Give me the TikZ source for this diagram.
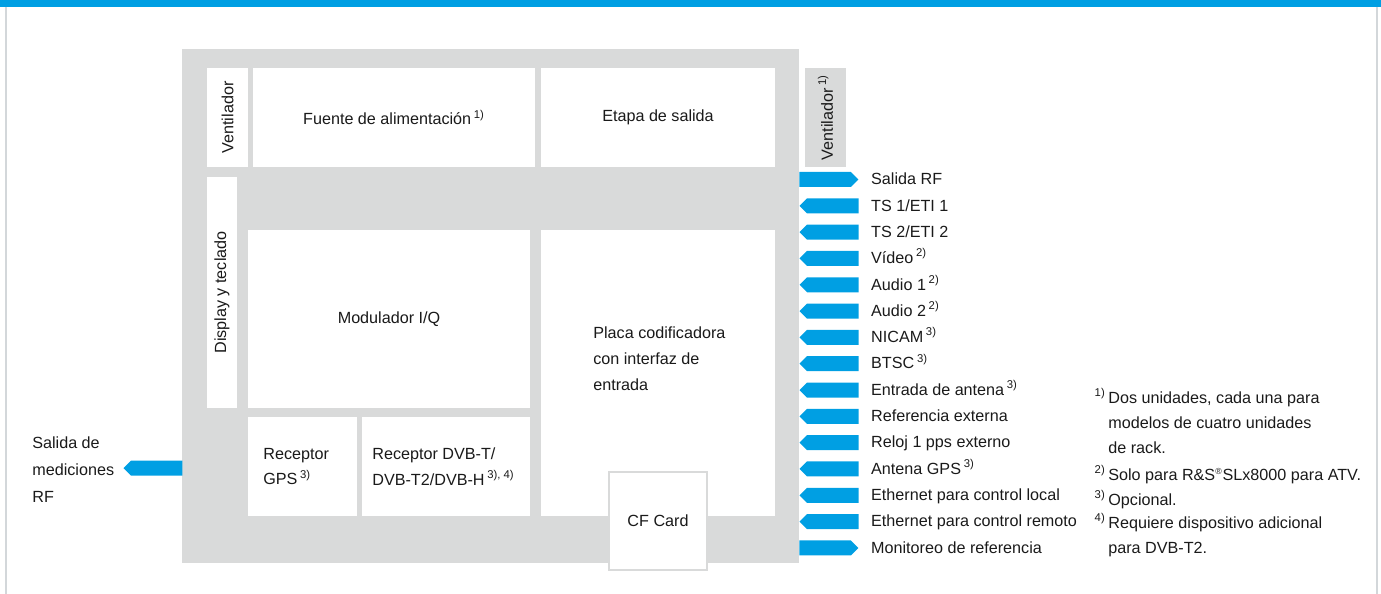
\documentclass[tikz,border=0pt]{standalone}
\usepackage{fontspec}
\setmainfont{Liberation Sans}
\usepackage{xcolor}
\usetikzlibrary{shapes.symbols,positioning}

\definecolor{rsblue}{HTML}{009FE3}
\definecolor{rsgray}{HTML}{D9DADA}
\definecolor{framegray}{HTML}{D3D7DA}
\definecolor{inkgray}{HTML}{1A1A1A}
\newcommand{\fnote}[1]{\,\textsuperscript{#1}}

\begin{document}
\begin{tikzpicture}[
    x=0.02cm, y=-0.02cm,
    font=\fontsize{9.2}{14.7}\selectfont, text=inkgray,
    node distance=0.2264cm and 0.24cm,
    % Unit styles
    chassis/.style={rectangle, fill=rsgray, inner sep=0pt,
        minimum width=12.34cm, minimum height=10.28cm},
    unit/.style={rectangle, fill=white, inner sep=0pt, text centered},
    fan/.style={unit, rotate=90, minimum width=1.98cm, minimum height=0.82cm},
    card/.style={rectangle, draw=rsgray, line width=1.1pt, fill=white,
        inner sep=0pt, minimum size=1.96cm},
    blocktext/.style={inner sep=0pt, align=left, anchor=west},
    % Port styles
    outport/.style={signal, signal to=east, signal pointer angle=90, fill=rsblue,
        inner sep=0pt, minimum width=1.18cm, minimum height=0.3cm, anchor=west},
    inport/.style={outport, signal to=west},
    portlabel/.style={inner sep=0pt, text height=7.5pt, text depth=1.5pt},
    note/.style={inner sep=0pt, align=left, anchor=base west,
        font=\fontsize{9.2}{14.2}\selectfont}
]
    \useasboundingbox (0,0) rectangle (1381,594);

    % Page frame
    \fill[rsblue] (0,0) rectangle (1381,7);
    \draw[framegray, line width=0.7pt] (6,7) -- (6,594);
    \draw[framegray, line width=0.7pt] (1377,7) -- (1377,594);

    % Chassis and units
    \node[chassis] (rack) at (490.5,306) {};
    \node[fan] (fanleft) at (227.5,117.5) {Ventilador};
    \node[unit, minimum width=5.64cm, minimum height=1.98cm] (psu) at (394,117.5)
        {Fuente de alimentación\fnote{1)}};
    \node[unit, minimum width=4.68cm, minimum height=1.98cm] (output) at (658,117.5)
        {Etapa de salida};
    \node[unit, rotate=90, minimum width=4.62cm, minimum height=0.6cm] (display) at (222,292.5)
        {Display y teclado};
    \node[unit, minimum width=5.64cm, minimum height=3.56cm] (modulator) at (389,319)
        {Modulador I/Q};
    \node[unit, minimum width=4.68cm, minimum height=5.72cm] (coder) at (658,373) {};
    \node[blocktext] (codertext) at (593,359)
        {Placa codificadora\\con interfaz de\\entrada};
    \node[unit, minimum width=2.18cm, minimum height=1.98cm] (gps) at (302.5,466.5) {};
    \node[blocktext] (gpstext) at (263,466.5) {Receptor\\GPS\fnote{3)}};
    \node[unit, minimum width=3.36cm, minimum height=1.98cm] (dvb) at (446,466.5) {};
    \node[blocktext] (dvbtext) at (372,466.5)
        {Receptor DVB-T/\\DVB-T2/DVB-H\fnote{3), 4)}};
    \node[card] (cfcard) at (658,521) {CF Card};
    \node[fan, fill=rsgray] (fanright) at (825.5,117.5) {Ventilador\fnote{1)}};

    % Measurement output (left)
    \node[inport] (measout) at (123,468) {};
    \node[blocktext, font=\fontsize{9.2}{15.3}\selectfont] (measlabel) at (32,470)
        {Salida de\\mediciones\\RF};

    % Ports (right), one row every 0.5264cm
    \node[outport] (rfout) at (799,179.5) {};
    \node[inport] (ts1) at ([yshift=-0.5264cm]rfout.west) {};
    \node[inport] (ts2) at ([yshift=-0.5264cm]ts1.west) {};
    \node[inport] (video) at ([yshift=-0.5264cm]ts2.west) {};
    \node[inport] (audio1) at ([yshift=-0.5264cm]video.west) {};
    \node[inport] (audio2) at ([yshift=-0.5264cm]audio1.west) {};
    \node[inport] (nicam) at ([yshift=-0.5264cm]audio2.west) {};
    \node[inport] (btsc) at ([yshift=-0.5264cm]nicam.west) {};
    \node[inport] (antin) at ([yshift=-0.5264cm]btsc.west) {};
    \node[inport] (extref) at ([yshift=-0.5264cm]antin.west) {};
    \node[inport] (pps) at ([yshift=-0.5264cm]extref.west) {};
    \node[inport] (gpsant) at ([yshift=-0.5264cm]pps.west) {};
    \node[inport] (ethlocal) at ([yshift=-0.5264cm]gpsant.west) {};
    \node[inport] (ethremote) at ([yshift=-0.5264cm]ethlocal.west) {};
    \node[outport] (refmon) at ([yshift=-0.5264cm]ethremote.west) {};

    \node[portlabel, right=of rfout.east] (rfoutlabel) {Salida RF};
    \node[portlabel, right=of ts1.east] (ts1label) {TS 1/ETI 1};
    \node[portlabel, right=of ts2.east] (ts2label) {TS 2/ETI 2};
    \node[portlabel, right=of video.east] (videolabel) {Vídeo\fnote{2)}};
    \node[portlabel, right=of audio1.east] (audio1label) {Audio 1\fnote{2)}};
    \node[portlabel, right=of audio2.east] (audio2label) {Audio 2\fnote{2)}};
    \node[portlabel, right=of nicam.east] (nicamlabel) {NICAM\fnote{3)}};
    \node[portlabel, right=of btsc.east] (btsclabel) {BTSC\fnote{3)}};
    \node[portlabel, right=of antin.east] (antinlabel) {Entrada de antena\fnote{3)}};
    \node[portlabel, right=of extref.east] (extreflabel) {Referencia externa};
    \node[portlabel, right=of pps.east] (ppslabel) {Reloj 1 pps externo};
    \node[portlabel, right=of gpsant.east] (gpsantlabel) {Antena GPS\fnote{3)}};
    \node[portlabel, right=of ethlocal.east] (ethlocallabel) {Ethernet para control local};
    \node[portlabel, right=of ethremote.east] (ethremotelabel) {Ethernet para control remoto};
    \node[portlabel, right=of refmon.east] (refmonlabel) {Monitoreo de referencia};

    % Footnotes (anchored at the baseline of their last line)
    \node[note] (note1) at (1108,453)
        {\llap{\textsuperscript{1)}\,}Dos unidades, cada una para\\modelos de cuatro unidades\\de rack.};
    \node[note] (note2) at (1108,480)
        {\llap{\textsuperscript{2)}\,}Solo para R\&S{\scriptsize\textsuperscript{®}}SLx8000 para ATV.};
    \node[note] (note3) at (1108,505) {\llap{\textsuperscript{3)}\,}Opcional.};
    \node[note] (note4) at (1108,553)
        {\llap{\textsuperscript{4)}\,}Requiere dispositivo adicional\\para DVB-T2.};
\end{tikzpicture}
\end{document}
